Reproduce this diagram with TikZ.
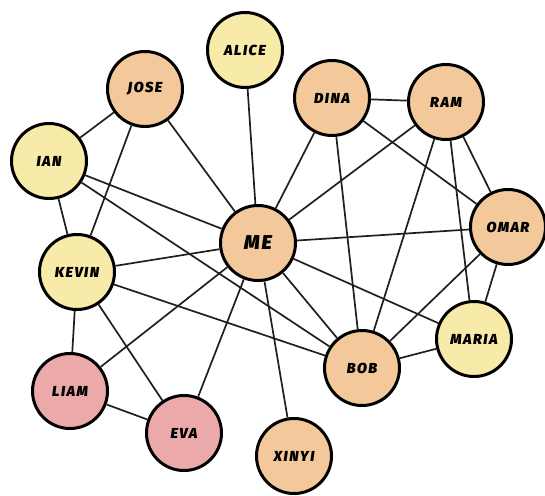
\documentclass[tikz,border=0pt]{standalone}
\usepackage{fontspec}
\newfontfamily\handfont[LetterSpace=10,BoldItalicFont={Fira Sans Black Italic}]{Fira Sans}
\begin{document}
\begin{tikzpicture}[x=1pt,y=-1pt,
  person/.style={circle,draw=black,line width=3pt,minimum size=75pt,inner sep=0pt,
    font=\handfont\fontsize{14.5}{15}\selectfont\bfseries\itshape},
  orng/.style={person,fill=orng},
  yell/.style={person,fill=yell},
  pink/.style={person,fill=pinkc},
  link/.style={draw=black!88,line width=1.7pt}]
\definecolor{orng}{HTML}{F3C89B}
\definecolor{yell}{HTML}{F8EAA8}
\definecolor{pinkc}{HTML}{EBAAA9}
\useasboundingbox (0,0) rectangle (545,495);
\node[yell] (alice) at (245,50) {ALICE};
\node[orng] (jose) at (145,89) {JOSE};
\node[yell] (ian) at (49,161) {IAN};
\node[orng] (me) at (258,243) {\fontsize{20}{20}\selectfont ME};
\node[orng] (dina) at (332,98) {DINA};
\node[orng] (ram) at (446,102) {RAM};
\node[orng] (omar) at (508,227) {OMAR};
\node[yell] (kevin) at (77,272) {KEVIN};
\node[pink] (liam) at (70,391) {LIAM};
\node[pink] (eva) at (184,433) {EVA};
\node[orng] (xinyi) at (294,456) {XINYI};
\node[orng] (bob) at (362,368) {BOB};
\node[yell] (maria) at (474,339) {MARIA};
\foreach \a/\b in {jose/ian,jose/kevin,jose/me,alice/me,ian/kevin,ian/me,ian/bob,
  kevin/me,kevin/bob,kevin/liam,kevin/eva,liam/me,liam/eva,eva/me,me/xinyi,me/bob,
  me/maria,me/omar,me/dina,me/ram,dina/ram,dina/omar,dina/bob,ram/bob,ram/maria,
  ram/omar,omar/bob,omar/maria,bob/maria}
  \draw[link] (\a) -- (\b);
\end{tikzpicture}
\end{document}
